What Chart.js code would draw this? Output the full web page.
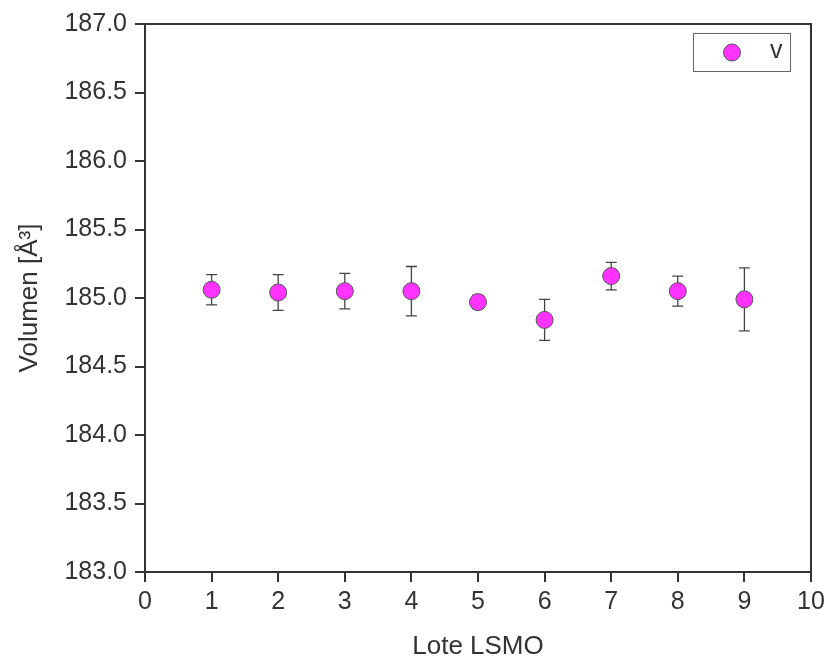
<!DOCTYPE html>
<html>
<head>
<meta charset="utf-8">
<script src="https://cdn.jsdelivr.net/npm/chart.js@4/dist/chart.umd.min.js"></script>
<style>
html,body{margin:0;padding:0;background:#fff;}
canvas{display:block;}
</style>
</head>
<body>
<canvas id="c" width="830" height="666"></canvas>
<script>
const lots = [1, 2, 3, 4, 5, 6, 7, 8, 9];
const volumes = [185.06, 185.04, 185.05, 185.05, 184.97, 184.84, 185.16, 185.05, 184.99];
const errors = [0.11, 0.13, 0.13, 0.18, 0.05, 0.15, 0.10, 0.11, 0.23];
const seriesLabel = 'v';
const xTitle = 'Lote LSMO';
const yTitle = 'Volumen [Å³]';

const FONT = "'Liberation Sans', Arial, sans-serif";
const TXT = '#333333';
const AX = '#333333';

const errorBars = {
  id: 'errorBars',
  beforeDatasetsDraw(chart) {
    const {ctx, scales: {x, y}} = chart;
    ctx.save();
    ctx.strokeStyle = '#444';
    ctx.lineWidth = 1.3;
    lots.forEach((l, i) => {
      const px = x.getPixelForValue(l);
      const top = y.getPixelForValue(volumes[i] + errors[i]);
      const bot = y.getPixelForValue(volumes[i] - errors[i]);
      ctx.beginPath();
      ctx.moveTo(px, top); ctx.lineTo(px, bot);
      ctx.moveTo(px - 5.5, top); ctx.lineTo(px + 5.5, top);
      ctx.moveTo(px - 5.5, bot); ctx.lineTo(px + 5.5, bot);
      ctx.stroke();
    });
    ctx.restore();
  },
  afterDraw(chart) {
    const {ctx, chartArea: a} = chart;
    ctx.save();
    ctx.strokeStyle = AX;
    ctx.lineWidth = 2;
    ctx.beginPath();
    ctx.moveTo(a.left - 10, a.top);
    ctx.lineTo(a.right, a.top);
    ctx.lineTo(a.right, a.bottom + 10);
    ctx.stroke();
    // legend box
    const bx = a.right - 118, by = a.top + 9, bw = 97, bh = 38;
    ctx.strokeStyle = '#666';
    ctx.lineWidth = 1;
    ctx.strokeRect(bx + 0.5, by + 0.5, bw, bh);
    ctx.beginPath();
    ctx.arc(bx + 39, by + 19.5, 8.5, 0, Math.PI * 2);
    ctx.fillStyle = '#ff33ff';
    ctx.fill();
    ctx.strokeStyle = '#555';
    ctx.stroke();
    ctx.fillStyle = TXT;
    ctx.font = '25px ' + FONT;
    ctx.textBaseline = 'middle';
    ctx.textAlign = 'left';
    ctx.fillText(chart.data.datasets[0].label, bx + 77, by + 18);
    ctx.restore();
  }
};

new Chart(document.getElementById('c'), {
  type: 'scatter',
  data: {
    datasets: [{
      label: seriesLabel,
      data: lots.map((l, i) => ({x: l, y: volumes[i]})),
      backgroundColor: '#ff33ff',
      borderColor: '#555555',
      borderWidth: 1,
      pointRadius: 8.5,
      pointHoverRadius: 8.5
    }]
  },
  options: {
    responsive: false,
    animation: false,
    events: [],
    layout: {padding: {left: 0, top: 24, right: 19, bottom: 0}},
    plugins: {legend: {display: false}, tooltip: {enabled: false}},
    scales: {
      x: {
        type: 'linear', min: 0, max: 10,
        afterFit(s) { s.height = 94; },
        ticks: {stepSize: 1, color: TXT, font: {family: FONT, size: 25}, padding: 5, maxRotation: 0},
        grid: {drawOnChartArea: false, drawTicks: true, tickLength: 10, color: AX, lineWidth: 2, tickColor: AX},
        border: {display: true, color: AX, width: 2},
        title: {display: true, text: xTitle, color: TXT, font: {family: FONT, size: 26}, padding: {bottom: 4}}
      },
      y: {
        type: 'linear', min: 183, max: 187,
        afterFit(s) { s.width = 145; },
        ticks: {stepSize: 0.5, color: TXT, font: {family: FONT, size: 25}, padding: 8, callback: v => v.toFixed(1)},
        grid: {drawOnChartArea: false, drawTicks: true, tickLength: 10, color: AX, lineWidth: 2, tickColor: AX},
        border: {display: true, color: AX, width: 2},
        title: {display: true, text: yTitle, color: TXT, font: {family: FONT, size: 26}, padding: {top: 14}}
      }
    }
  },
  plugins: [errorBars]
});
</script>
</body>
</html>
